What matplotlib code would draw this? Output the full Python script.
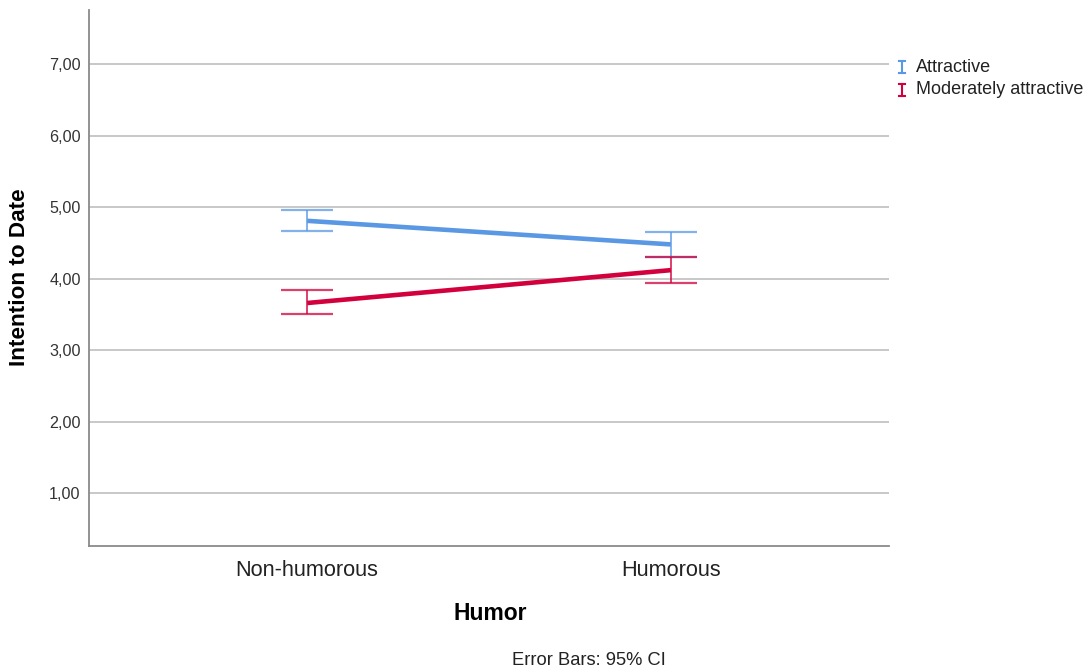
import matplotlib
matplotlib.use("Agg")
import matplotlib.pyplot as plt
from matplotlib.lines import Line2D
import numpy as np

# Groups and cell summaries (means with 95% CI bounds)
humor_levels = ["Non-humorous", "Humorous"]
series_names = ["Attractive", "Moderately attractive"]
attractive_mean = [4.81, 4.48]
attractive_low = [4.67, 4.30]
attractive_high = [4.96, 4.66]
moderate_mean = [3.66, 4.12]
moderate_low = [3.51, 3.94]
moderate_high = [3.84, 4.30]
y_ticks = [1, 2, 3, 4, 5, 6, 7]

colors = ["#5a98e4", "#d2003c"]

plt.rcParams["font.family"] = ["Liberation Sans", "DejaVu Sans"]

fig = plt.figure(figsize=(10.88, 6.68), dpi=100)
ax = fig.add_axes([89 / 1088, 1 - 546 / 668, 800 / 1088, 536 / 668])

x = np.arange(len(humor_levels))
groups = [
    (attractive_mean, attractive_low, attractive_high),
    (moderate_mean, moderate_low, moderate_high),
]
for (mean, low, high), col in zip(groups, colors):
    mean = np.array(mean)
    yerr = [mean - np.array(low), np.array(high) - mean]
    ax.plot(x, mean, color=col, lw=3.3, solid_capstyle="butt", zorder=4)
    ax.errorbar(x, mean, yerr=yerr, fmt="none", ecolor=col, elinewidth=1.4,
                capsize=18.5, capthick=1.6, alpha=0.75, zorder=3)

ax.set_xlim(-0.6, 1.6)
ax.set_ylim(0.26, 7.76)
ax.set_yticks(y_ticks)
ax.set_yticklabels([f"{v:.2f}".replace(".", ",") for v in y_ticks])
ax.set_xticks(x)
ax.set_xticklabels(humor_levels)
ax.yaxis.grid(True, color="#c8c8c8", lw=1.4)
ax.set_axisbelow(True)
ax.tick_params(axis="y", length=0, pad=6, labelsize=11.6, labelcolor="#333333")
ax.tick_params(axis="x", length=0, pad=10, labelsize=15.7, labelcolor="#222222")
for side in ["top", "right"]:
    ax.spines[side].set_visible(False)
for side in ["left", "bottom"]:
    ax.spines[side].set_color("#8a8a8a")
    ax.spines[side].set_linewidth(1.3)

fig.text(20 / 1088, 1 - 277 / 668, "Intention to Date", rotation=90,
         ha="center", va="center", fontsize=16.2, fontweight="bold")
fig.text(490 / 1088, 1 - 614 / 668, "Humor", ha="center", va="center",
         fontsize=16.5, fontweight="bold")
fig.text(589 / 1088, 3 / 668, "Error Bars: 95% CI", ha="center",
         va="baseline", fontsize=13.2, color="#222222")

# Legend with error-bar style keys
for i, (name, col) in enumerate(zip(series_names, colors)):
    yc = 1 - (67 + 23 * i) / 668
    xc = 902 / 1088
    dy = 6 / 668
    dx = 3 / 1088
    fig.add_artist(Line2D([xc, xc], [yc - dy, yc + dy], color=col, lw=1.5,
                          transform=fig.transFigure))
    for yy in (yc - dy, yc + dy):
        fig.add_artist(Line2D([xc - dx, xc + dx], [yy, yy], color=col, lw=1.5,
                              transform=fig.transFigure))
    fig.text(916 / 1088, yc, name, ha="left", va="center", fontsize=13,
             color="#222222")

fig.savefig("out.png", dpi=100)
